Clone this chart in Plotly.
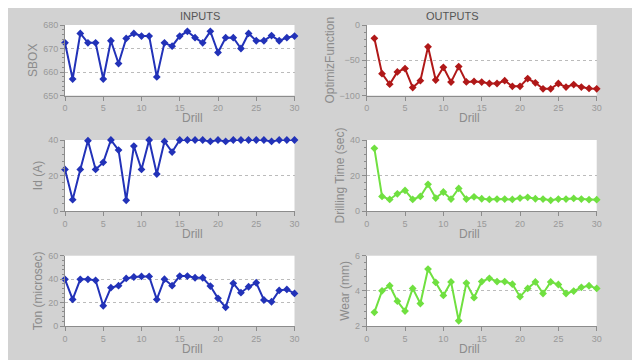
import plotly.graph_objects as go
from plotly.subplots import make_subplots

drill_in = list(range(0, 31))
drill_out = list(range(1, 31))

sbox = [672.4, 657, 676.4, 672.4, 672.4, 657, 673.3, 663.6, 674.3, 676.4, 675.3, 675.3, 657.9, 672.4, 671,
        675.3, 677.3, 674.6, 672.4, 677.3, 668.3, 674.6, 674.6, 670, 676.4, 673.3, 673.3, 675.5, 673.3, 674.6, 675.3]
id_a = [23.4, 6.4, 23.4, 39.6, 23.4, 27.4, 40, 34.3, 6, 36.6, 23.4, 40, 20.8, 39.2, 33.2,
        40, 40, 40, 40, 39.2, 40, 39.2, 40, 40, 40, 40, 40, 39.2, 40, 40, 40]
ton = [39.8, 22.7, 39.8, 39.8, 39, 17.3, 32.7, 34.4, 40.6, 41.8, 42.3, 42.3, 22.7, 40, 34.4,
       42.6, 42.6, 41.2, 41.2, 34.1, 23.6, 15.9, 36.4, 28.4, 33.5, 36.9, 22.2, 20.7, 30.4, 31.2, 27.8]

optimiz = [-18.9, -69, -84, -66.5, -61.8, -88.7, -79, -31, -78, -60, -81, -59, -80.7, -80, -81,
           -83, -83, -79, -87, -87, -76, -82, -90.5, -90.5, -83, -88, -84.5, -88, -90, -90.5]
drill_time = [35.3, 8.2, 6.5, 9.7, 11.6, 6.5, 8.2, 15, 7.3, 10.7, 6.7, 12.7, 6.7, 8, 6.9,
              6.5, 6.7, 6.7, 6.5, 7.3, 7.7, 6.9, 6.7, 6, 6.7, 6.7, 7.1, 6.7, 6.4, 6.4]
wear = [2.78, 4.0, 4.29, 3.41, 2.85, 4.14, 3.28, 5.24, 4.48, 3.74, 4.51, 2.30, 4.44, 3.61, 4.53,
        4.71, 4.53, 4.53, 4.38, 3.67, 4.14, 4.51, 3.85, 4.51, 4.36, 3.85, 3.99, 4.2, 4.29, 4.14]

BLUE = "#2232b8"
RED = "#b01818"
GREEN = "#70e040"
GRAY = "#8c8c8c"

W, H = 640, 360
OFF = 8  # page body margin offset

fig = make_subplots(rows=3, cols=2)

panels = [
    (1, 1, drill_in, sbox, BLUE, "SBOX", [650, 680], 10, 2),
    (2, 1, drill_in, id_a, BLUE, "Id (A)", [0, 40], 20, 4),
    (3, 1, drill_in, ton, BLUE, "Ton (microsec)", [0, 60], 20, 4),
    (1, 2, drill_out, optimiz, RED, "OptimizFunction", [-100, 0], 50, 10),
    (2, 2, drill_out, drill_time, GREEN, "Drilling Time (sec)", [0, 40], 20, 4),
    (3, 2, drill_out, wear, GREEN, "Wear (mm)", [2, 6], 2, 0.4),
]

xpx = {1: (65, 294.5), 2: (366.7, 596.7)}
ypx = {1: (25, 95.5), 2: (140, 211), 3: (255.7, 326)}
xdom = {c: [(a - OFF) / W, (b - OFF) / W] for c, (a, b) in xpx.items()}
ydom = {r: [1 - (b - OFF) / H, 1 - (a - OFF) / H] for r, (a, b) in ypx.items()}

for r, c, x, y, col, title, yr, dt, mdt in panels:
    fig.add_trace(go.Scatter(x=x, y=y, mode="lines+markers",
                             line=dict(color=col, width=2),
                             marker=dict(symbol="diamond", size=6, color=col),
                             cliponaxis=False, showlegend=False), row=r, col=c)
    fig.update_xaxes(range=[0, 30], domain=xdom[c], dtick=5, showgrid=False,
                     showline=True, linecolor=GRAY, linewidth=1, ticks="outside", ticklen=4,
                     tickcolor=GRAY, tickfont=dict(size=9, color="#999999"),
                     automargin=False, zeroline=False, row=r, col=c)
    fig.update_yaxes(range=yr, domain=ydom[r], dtick=dt, showgrid=True,
                     gridcolor="#bbbbbb", griddash="dot", gridwidth=1,
                     showline=True, linecolor=GRAY, linewidth=1, ticks="outside", ticklen=4,
                     tickcolor=GRAY, tickfont=dict(size=9, color="#999999"),
                     minor=dict(dtick=mdt, ticks="outside", ticklen=2, tickcolor=GRAY, showgrid=False),
                     title=dict(text=title, font=dict(size=12, color=GRAY), standoff=2),
                     automargin=False, zeroline=False, row=r, col=c)
    # x-axis title "Drill"
    xc = (xpx[c][0] + xpx[c][1]) / 2
    fig.add_annotation(text="Drill", x=(xc - OFF) / W, y=1 - (ypx[r][1] + 22.5 - OFF) / H,
                       xref="paper", yref="paper", showarrow=False, yanchor="middle",
                       font=dict(size=12, color=GRAY))

fig.add_annotation(text="INPUTS", x=(178 - OFF) / W, y=1, xref="paper", yref="paper",
                   yanchor="top", showarrow=False, font=dict(size=11, color="#555555"))
fig.add_annotation(text="OUTPUTS", x=(481 - OFF) / W, y=1, xref="paper", yref="paper",
                   yanchor="top", showarrow=False, font=dict(size=11, color="#555555"))

fig.update_layout(width=W, height=H, margin=dict(l=0, r=0, t=0, b=0),
                  paper_bgcolor="#d2d2d2", plot_bgcolor="white",
                  font=dict(family="Liberation Sans, Arial, sans-serif"))

fig.write_html("out.html")
